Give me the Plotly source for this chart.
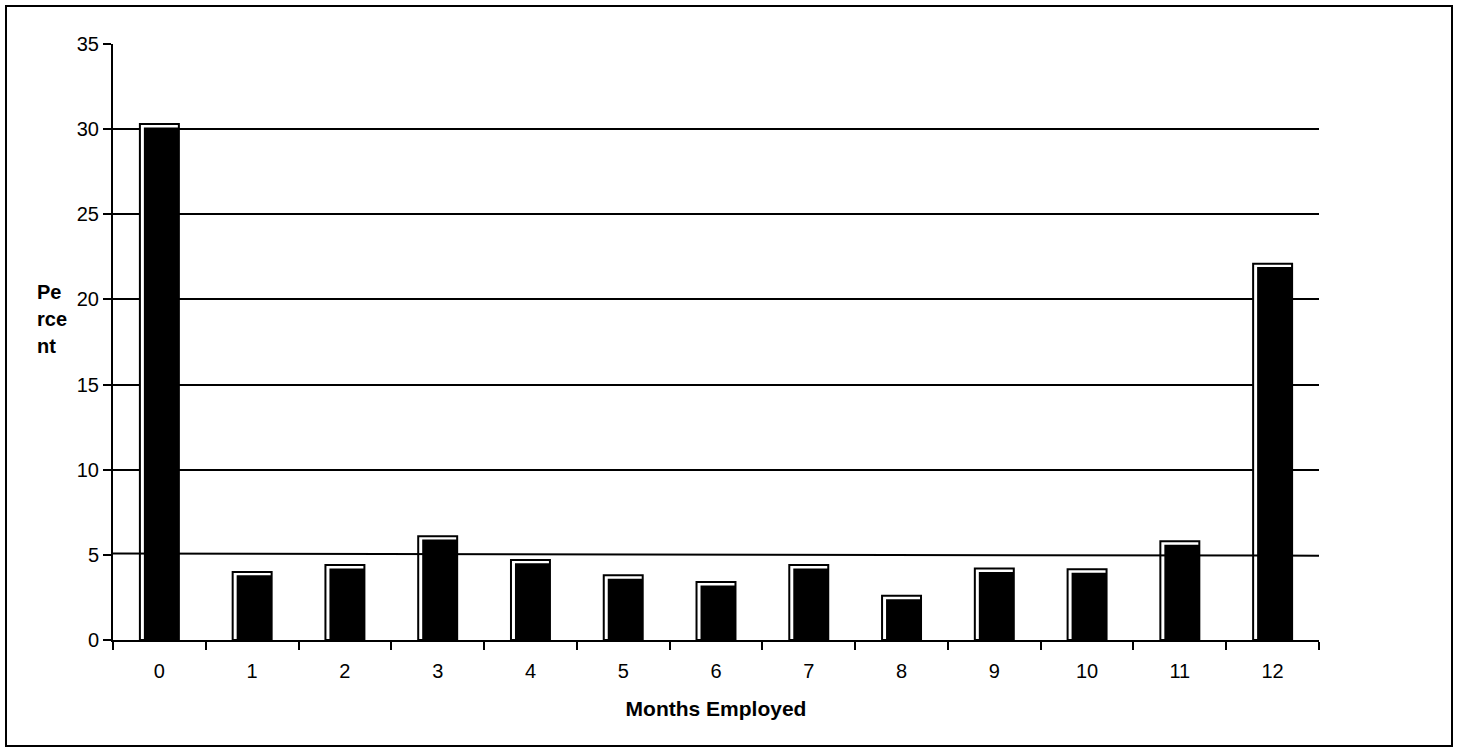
import plotly.graph_objects as go

months = ["0", "1", "2", "3", "4", "5", "6", "7", "8", "9", "10", "11", "12"]
percent = [30.3, 4.0, 4.4, 6.1, 4.7, 3.8, 3.4, 4.4, 2.6, 4.2, 4.15, 5.8, 22.1]
trend_x = [-0.5, 12.5]
trend_y = [5.08, 4.95]
y_ticks = [0, 5, 10, 15, 20, 25, 30, 35]
grid_vals = [10, 15, 20, 25, 30]

W, H = 1458, 752
L, R, T, B = 113, 139, 44, 112
pw, ph = W - L - R, H - T - B

def px_x(X):
    return (X - L) / pw

def px_y(Y):
    return (H - B - Y) / ph

bar_w = 0.42
inset_x = 0.043
inset_y = 0.2

fig = go.Figure()
fig.add_trace(go.Bar(x=months, y=percent, width=bar_w,
                     marker=dict(color="white", line=dict(color="black", width=2)),
                     showlegend=False, hoverinfo="skip"))
fig.add_trace(go.Bar(x=months, y=[v - inset_y for v in percent],
                     width=bar_w - inset_x, offset=-bar_w / 2 + inset_x,
                     marker=dict(color="black", line=dict(width=0)),
                     showlegend=False, hoverinfo="skip"))
fig.add_trace(go.Scatter(x=trend_x, y=trend_y, mode="lines", xaxis="x2", yaxis="y",
                         line=dict(color="black", width=2), showlegend=False, hoverinfo="skip"))
fig.add_trace(go.Scatter(x=[None], y=[None], xaxis="x2", yaxis="y2", showlegend=False))

font = dict(family="Liberation Sans, Arial, sans-serif", size=20, color="black")
title_font = dict(family="Liberation Sans, Arial, sans-serif", size=21, color="black")

fig.update_layout(
    width=W, height=H,
    margin=dict(l=L, r=R, t=T, b=B, autoexpand=False),
    paper_bgcolor="white", plot_bgcolor="white",
    barmode="overlay",
    font=font,
    xaxis=dict(type="category", tickson="boundaries", ticks="outside", ticklen=8,
               tickwidth=2, tickcolor="black", showline=True, linewidth=2, linecolor="black",
               showgrid=False, range=[-0.5, 12.5], tickfont=font, ticklabelstandoff=12,
               title=dict(text="<b>Months Employed</b>", font=title_font, standoff=20)),
    xaxis2=dict(overlaying="x", range=[-0.5, 12.5], visible=False),
    yaxis=dict(range=[0, 35], tickvals=y_ticks, ticks="outside", ticklen=8, tickwidth=2,
               tickcolor="black", showline=True, linewidth=2, linecolor="black",
               showgrid=False, zeroline=False, tickfont=font),
    yaxis2=dict(overlaying="y", range=[0, 35], tickvals=grid_vals, showgrid=True,
                gridcolor="black", gridwidth=2, showticklabels=False, ticks="",
                zeroline=False, showline=False),
)

for txt, Y in [("Pe", 292), ("rce", 319), ("nt", 346)]:
    fig.add_annotation(text=f"<b>{txt}</b>", xref="paper", yref="paper",
                       x=px_x(35), y=px_y(Y), xanchor="left", yanchor="middle",
                       showarrow=False, font=font)

fig.add_shape(type="rect", xref="paper", yref="paper",
              x0=px_x(6), x1=px_x(1452), y0=px_y(746), y1=px_y(6),
              line=dict(color="black", width=2), layer="below")

fig.write_html("out.html")
